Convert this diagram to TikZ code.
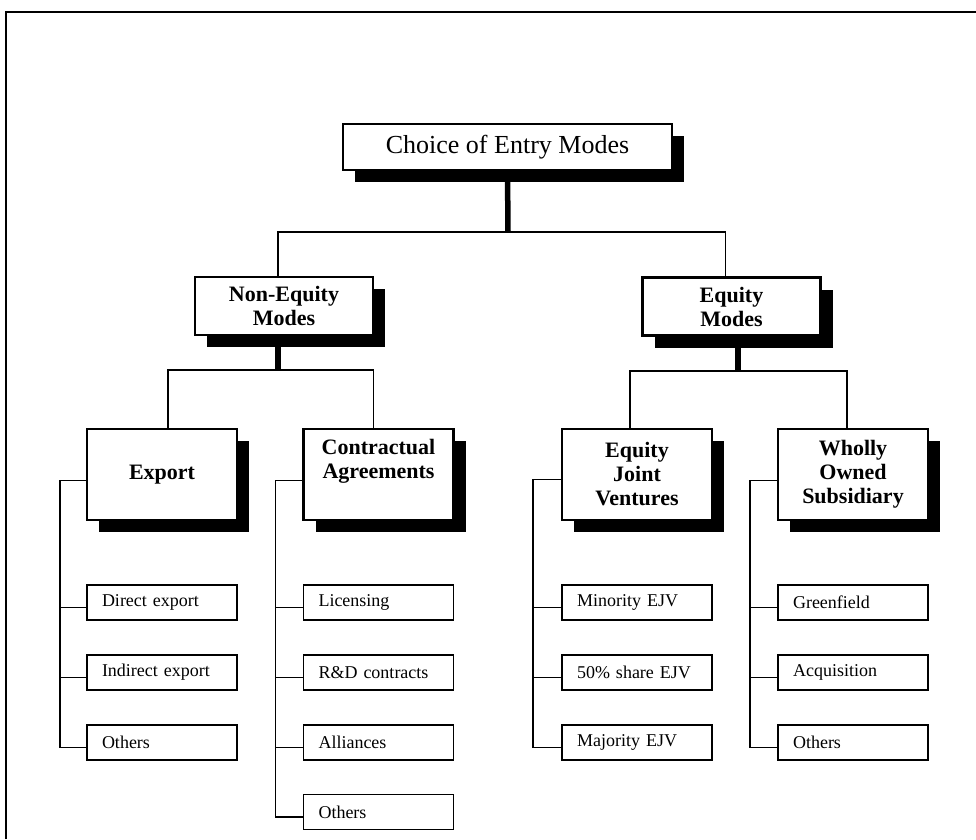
\documentclass[tikz,border=0pt]{standalone}
\usepackage{fontspec}
\setmainfont{Liberation Serif}
\usetikzlibrary{shadows}
\pgfdeclarelayer{bg}
\pgfsetlayers{bg,main}
\begin{document}
\begin{tikzpicture}[x=1pt,y=-1pt,
  shbox/.style={draw, line width=2.2pt, fill=white,
    general shadow={fill=black, shadow xshift=12pt, shadow yshift=-12pt}},
  topbox/.style={shbox, minimum width=329pt, minimum height=46pt, inner sep=0pt,
    font=\fontsize{26}{28}\selectfont},
  midbox/.style={shbox, minimum width=178pt, minimum height=58pt, inner sep=0pt,
    align=center, font=\fontsize{22}{24}\selectfont\bfseries},
  catbox/.style={shbox, minimum width=150pt, minimum height=91pt, inner sep=0pt,
    align=center, font=\fontsize{22}{24}\selectfont\bfseries},
  leaf/.style={draw, line width=1.8pt, fill=white, minimum height=35pt,
    text width=120pt, inner xsep=15pt, inner ysep=0pt, align=left,
    font=\fontsize{18}{20}\selectfont},
  conn/.style={line width=1.6pt},
  stem/.style={line width=5.5pt},
]
\useasboundingbox (0,0) rectangle (976,839);
\draw[line width=2pt] (6,839) -- (6,12) -- (976,12);

% boxes
\node[topbox] (top) at (507.5,147) {Choice of Entry Modes};
\node[midbox] (noneq) at (284,306) {Non-Equity\\Modes};
\node[midbox] (eq) at (731.5,306.5) {Equity\\Modes};

\node[catbox] (export) at (162,474.5) {Export};
\node[catbox] (contract) at (378.5,474.5) {Contractual\\Agreements\\\strut};
\node[catbox] (ejv) at (637,474.5) {Equity\\Joint\\Ventures};
\node[catbox] (wos) at (853,474.5) {Wholly\\Owned\\Subsidiary};

% leaves
\node[leaf] (ex1) at (162,602.5) {Direct export};
\node[leaf] (ex2) at (162,672.5) {Indirect export};
\node[leaf] (ex3) at (162,742.5) {Others};

\node[leaf] (ca1) at (378.5,602.5) {Licensing};
\node[leaf] (ca2) at (378.5,672.5) {R\&D contracts};
\node[leaf] (ca3) at (378.5,742.5) {Alliances};
\node[leaf] (ca4) at (378.5,812) {Others};

\node[leaf] (ej1) at (637,602.5) {Minority EJV};
\node[leaf] (ej2) at (637,672.5) {50\% share EJV};
\node[leaf] (ej3) at (637,742.5) {Majority EJV};

\node[leaf] (wo1) at (853,602.5) {Greenfield};
\node[leaf] (wo2) at (853,672.5) {Acquisition};
\node[leaf] (wo3) at (853,742.5) {Others};

\coordinate (j0) at (508,232);
\coordinate (j1) at (278,370);
\coordinate (j2) at (738,371);

\begin{pgfonlayer}{bg}
  \draw[stem] (top.south) -- (j0);
  \draw[conn] ([xshift=-6pt]noneq.north) |- (j0) -| ([xshift=-6pt]eq.north);

  \draw[stem] ([xshift=-6pt]noneq.south) -- (j1);
  \draw[conn] ([xshift=6pt]export.north) |- (j1) -| ([xshift=-5pt]contract.north);

  \draw[stem] ([xshift=6.5pt]eq.south) -- (j2);
  \draw[conn] ([xshift=-7pt]ejv.north) |- (j2) -| ([xshift=-6pt]wos.north);

  % brackets
  \draw[conn] ([yshift=-6pt]export.west) -- ++(-26,0) |- ([yshift=-5pt]ex3.west);
  \draw[conn] ([yshift=-5pt]ex1.west) -- ++(-26,0);
  \draw[conn] ([yshift=-5pt]ex2.west) -- ++(-26,0);

  \draw[conn] ([yshift=-6pt]contract.west) -- ++(-27,0) |- ([yshift=-5pt]ca4.west);
  \draw[conn] ([yshift=-5pt]ca1.west) -- ++(-27,0);
  \draw[conn] ([yshift=-5pt]ca2.west) -- ++(-27,0);
  \draw[conn] ([yshift=-5pt]ca3.west) -- ++(-27,0);

  \draw[conn] ([yshift=-5pt]ejv.west) -- ++(-28,0) |- ([yshift=-5pt]ej3.west);
  \draw[conn] ([yshift=-5pt]ej1.west) -- ++(-28,0);
  \draw[conn] ([yshift=-5pt]ej2.west) -- ++(-28,0);

  \draw[conn] ([yshift=-6pt]wos.west) -- ++(-27,0) |- ([yshift=-5pt]wo3.west);
  \draw[conn] ([yshift=-5pt]wo1.west) -- ++(-27,0);
  \draw[conn] ([yshift=-5pt]wo2.west) -- ++(-27,0);
\end{pgfonlayer}
\end{tikzpicture}
\end{document}
